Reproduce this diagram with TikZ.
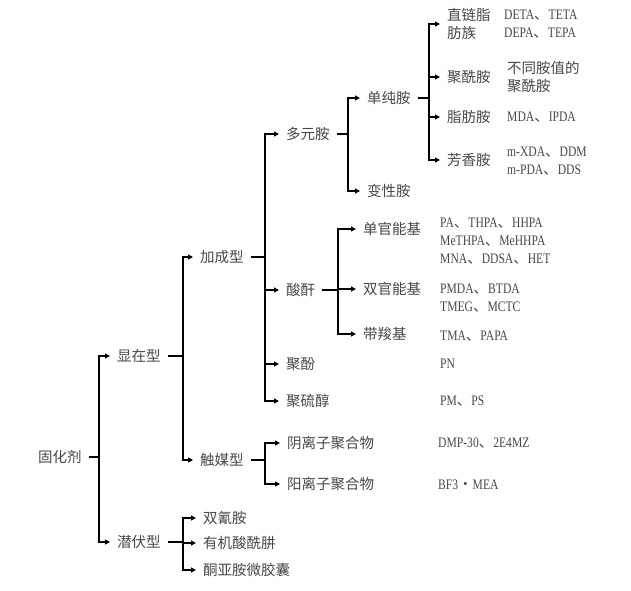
\documentclass[tikz,border=0pt]{standalone}
\usepackage{fontspec}
\setmainfont{Noto Sans CJK SC}
\newfontfamily\lat[FakeStretch=0.8]{Liberation Serif}
\usetikzlibrary{arrows.meta}
\newcommand\dun{{\normalfont 、}}
\newcommand\mdot{{\normalfont ・}}

\tikzset{
  every picture/.append style={x=1pt, y=-1pt},
  lbl/.style={anchor=west, inner xsep=7pt, inner ysep=1pt, text=black!72,
    font=\fontsize{14.5}{18}\selectfont, align=left},
  val/.style={lbl, font=\fontsize{14.5}{18}\selectfont\lat},
  line/.style={line width=1.8pt},
  arr/.style={line, -{Triangle[length=5pt, width=5pt]}},
}

\begin{document}
\begin{tikzpicture}
  \useasboundingbox (0,0) rectangle (631,590);

  \node[lbl] (gu) at (31,457) {固化剂};
  \node[lbl] (xz) at (110,356) {显在型};
  \node[lbl] (qf) at (110,542) {潜伏型};
  \node[lbl] (jc) at (193,257) {加成型};
  \node[lbl] (cm) at (193,460) {触媒型};
  \node[lbl] (sq) at (196,518) {双氰胺};
  \node[lbl] (yj) at (196,543) {有机酸酰肼};
  \node[lbl] (tw) at (196,570) {酮亚胺微胶囊};
  \node[lbl] (dy) at (279,134) {多元胺};
  \node[lbl] (ss) at (279,290) {酸酐};
  \node[lbl] (jf) at (279,364) {聚酚};
  \node[lbl] (jl) at (279,401) {聚硫醇};
  \node[lbl] (yl) at (280,443) {阴离子聚合物};
  \node[lbl] (ya) at (280,484) {阳离子聚合物};
  \node[lbl] (dc) at (360,98) {单纯胺};
  \node[lbl] (bx) at (360,191) {变性胺};
  \node[lbl] (dg) at (356,229) {单官能基};
  \node[lbl] (sg) at (356,289) {双官能基};
  \node[lbl] (dj) at (356,334) {带羧基};
  \node[lbl] (zl) at (440,24) {直链脂\\肪族};
  \node[lbl] (jx) at (440,77) {聚酰胺};
  \node[lbl] (zf) at (440,117) {脂肪胺};
  \node[lbl] (fx) at (440,160) {芳香胺};

  \node[val] (zl-v) at (497,24) {DETA\dun TETA\\DEPA\dun TEPA};
  \node[lbl] (jx-v) at (500,77) {不同胺值的\\聚酰胺};
  \node[val] (zf-v) at (500,117) {MDA\dun IPDA};
  \node[val] (fx-v) at (500,161) {m-XDA\dun DDM\\m-PDA\dun DDS};
  \node[val] (dg-v) at (433,241) {PA\dun THPA\dun HHPA\\MeTHPA\dun MeHHPA\\MNA\dun DDSA\dun HET};
  \node[val] (sg-v) at (433,298) {PMDA\dun BTDA\\TMEG\dun MCTC};
  \node[val] (dj-v) at (433,336) {TMA\dun PAPA};
  \node[val] (jf-v) at (433,364) {PN};
  \node[val] (jl-v) at (433,401) {PM\dun PS};
  \node[val] (yl-v) at (431,443) {DMP-30\dun 2E4MZ};
  \node[val] (ya-v) at (431,485) {BF3\mdot MEA};

  \coordinate (vgu) at (99,0);
  \coordinate (vxz) at (183,0);
  \coordinate (vqf) at (183,0);
  \coordinate (vjc) at (265,0);
  \coordinate (vcm) at (265,0);
  \coordinate (vdy) at (348,0);
  \coordinate (vss) at (338,0);
  \coordinate (vdc) at (429,0);

  \foreach \p/\cs in {gu/{xz,qf}, xz/{jc,cm}, qf/{sq,yj,tw}, jc/{dy,ss,jf,jl},
      cm/{yl,ya}, dy/{dc,bx}, ss/{dg,sg,dj}, dc/{zl,jx,zf,fx}} {
    \draw[line] (\p.east) -- (\p.east -| v\p);
    \foreach \c in \cs
      \draw[arr] (\p.east -| v\p) |- (\c.west);
  }
\end{tikzpicture}
\end{document}
